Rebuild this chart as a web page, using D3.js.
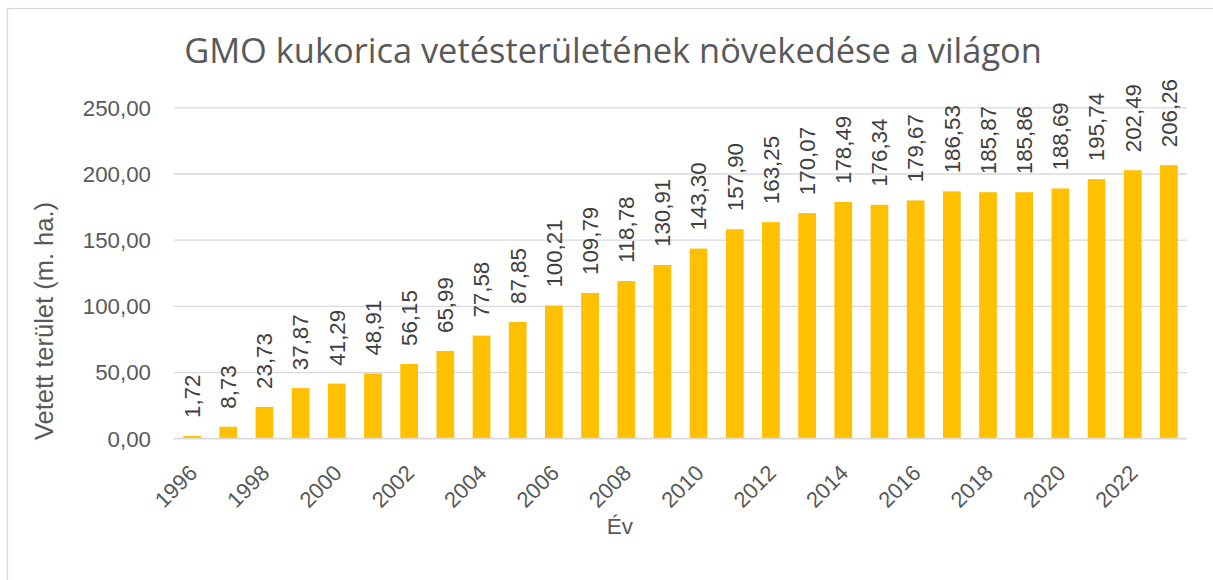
<!DOCTYPE html>
<html>
<head>
<meta charset="utf-8">
<script src="https://cdn.jsdelivr.net/npm/d3@7"></script>
<style>
  body { margin: 0; background: #fff; }
  text { font-family: "Liberation Sans", Arial, sans-serif; fill: #595959; }
</style>
</head>
<body>
<div id="chart"></div>
<script>
"use strict";

// chart data
const years = [1996, 1997, 1998, 1999, 2000, 2001, 2002, 2003, 2004, 2005,
    2006, 2007, 2008, 2009, 2010, 2011, 2012, 2013, 2014, 2015,
    2016, 2017, 2018, 2019, 2020, 2021, 2022, 2023];
const areas = [1.72, 8.73, 23.73, 37.87, 41.29, 48.91, 56.15, 65.99, 77.58, 87.85,
    100.21, 109.79, 118.78, 130.91, 143.30, 157.90, 163.25, 170.07, 178.49, 176.34,
    179.67, 186.53, 185.87, 185.86, 188.69, 195.74, 202.49, 206.26];
const yTicks = [0, 50, 100, 150, 200, 250];
const title = "GMO kukorica vetésterületének növekedése a világon";
const yTitle = "Vetett terület (m. ha.)";
const xTitle = "Év";

const msm = {
    width: 1213,
    height: 580,
    left: 174,
    right: 1187,
    top: 107.3,
    bottom: 438.3
}

// hungarian number format: comma as decimal sign
const hu = d3.formatLocale({ decimal: ",", thousands: " ", grouping: [3], currency: ["", " Ft"] });
const fmt = hu.format(".2f");

const svg = d3.select("#chart")
    .append("svg")
    .attr("width", msm.width)
    .attr("height", msm.height);

// chart frame
svg.append("rect")
    .attr("x", 7.5)
    .attr("y", 8.5)
    .attr("width", 1240)
    .attr("height", 620)
    .attr("fill", "#fff")
    .attr("stroke", "#d9d9d9")
    .attr("stroke-width", 1.3);

let xScale = d3.scaleBand()
    .domain(years)
    .range([msm.left, msm.right])
    .paddingInner(0.51)
    .paddingOuter(0.255);

let yScale = d3.scaleLinear()
    .domain([0, 250])
    .range([msm.bottom, msm.top]);

// gridlines + y tick labels through the axis
let yAxis = d3.axisLeft(yScale)
    .tickValues(yTicks)
    .tickSize(-(msm.right - msm.left))
    .tickPadding(23)
    .tickFormat(fmt);
let gy = svg.append("g")
    .attr("transform", "translate(" + msm.left + ",0)")
    .call(yAxis);
gy.select(".domain").remove();
gy.selectAll(".tick line")
    .attr("stroke", "#d9d9d9")
    .attr("stroke-width", 1.3);
gy.selectAll(".tick text")
    .attr("dy", "0.35em")
    .style("font-size", "22.3px")
    .style("fill", "#595959");

// bars
svg.selectAll(".bar")
    .data(years)
    .enter()
    .append("rect")
    .attr("class", "bar")
    .attr("x", (d) => xScale(d))
    .attr("width", xScale.bandwidth())
    .attr("y", (d, i) => yScale(areas[i]))
    .attr("height", (d, i) => yScale(0) - yScale(areas[i]))
    .attr("fill", "#ffc000");

// baseline on top of bars
svg.append("line")
    .attr("x1", msm.left)
    .attr("x2", msm.right)
    .attr("y1", yScale(0))
    .attr("y2", yScale(0))
    .attr("stroke", "#d9d9d9")
    .attr("stroke-width", 1.3);

// value labels, rotated
svg.selectAll(".lbl")
    .data(years)
    .enter()
    .append("text")
    .attr("class", "lbl")
    .attr("transform", (d, i) => "translate(" + (xScale(d) + xScale.bandwidth() / 2) + "," + (yScale(areas[i]) - 18) + ") rotate(-90)")
    .attr("dy", "0.35em")
    .style("font-size", "22.3px")
    .style("fill", "#404040")
    .text((d, i) => fmt(areas[i]));

// year labels, every second year
svg.selectAll(".yr")
    .data(years.filter((d) => d % 2 === 0))
    .enter()
    .append("text")
    .attr("class", "yr")
    .attr("transform", (d) => "translate(" + (xScale(d) + xScale.bandwidth() / 2 + 1) + ",469) rotate(-45)")
    .attr("text-anchor", "end")
    .attr("dy", "0.35em")
    .style("font-size", "22px")
    .text((d) => d);

// title
svg.append("text")
    .attr("x", 613)
    .attr("y", 63)
    .attr("text-anchor", "middle")
    .style("font-family", "'Open Sans', sans-serif")
    .style("font-size", "34.4px")
    .text(title);

// axis titles
svg.append("text")
    .attr("transform", "translate(53,321) rotate(-90)")
    .attr("text-anchor", "middle")
    .style("font-size", "25.5px")
    .text(yTitle);

svg.append("text")
    .attr("x", 620)
    .attr("y", 534)
    .attr("text-anchor", "middle")
    .style("font-size", "22.5px")
    .text(xTitle);
</script>
</body>
</html>
